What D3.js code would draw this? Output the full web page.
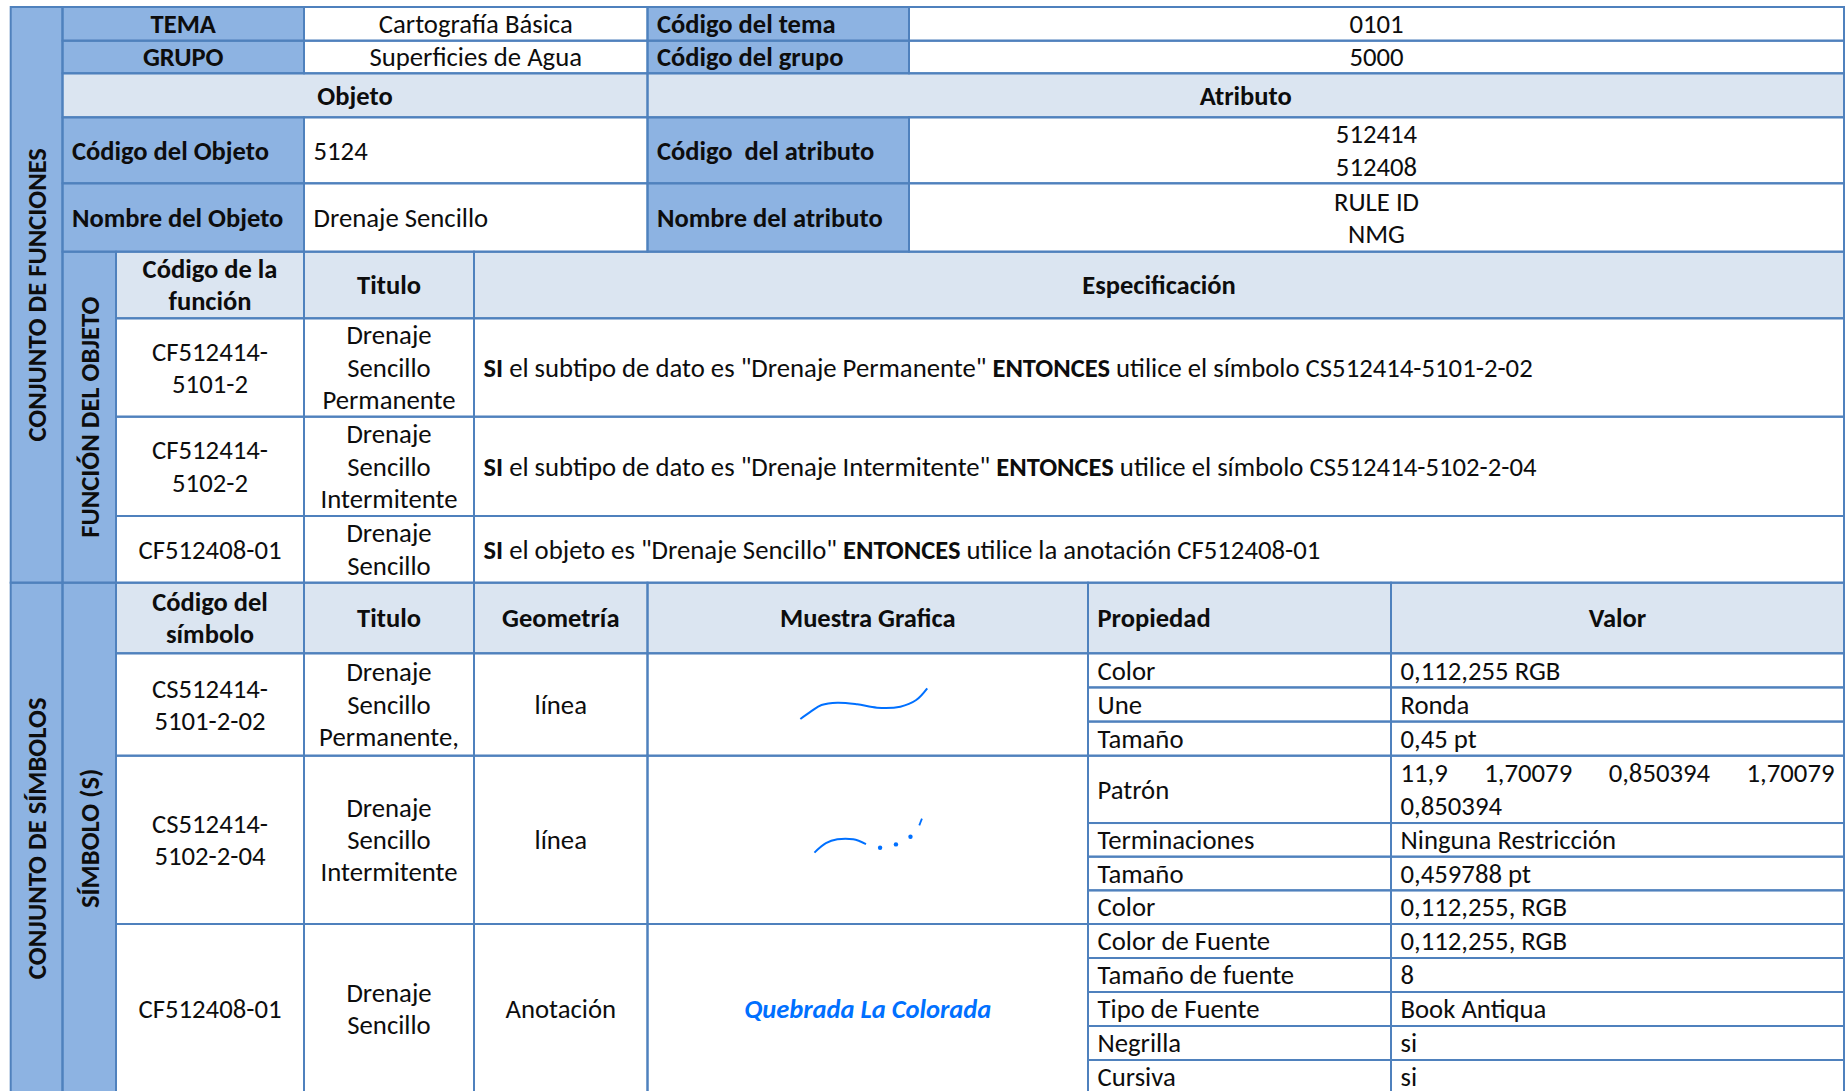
<!DOCTYPE html>
<html><head><meta charset="utf-8">
<script src="https://cdn.jsdelivr.net/npm/d3@7"></script>
<style>html,body{margin:0;padding:0;background:#fff;overflow:hidden} text{white-space:pre}</style>
</head><body><svg id="c"></svg>
<script>
// ---------------- DATA ----------------
const temaRow  = ["TEMA", "Cartografía Básica", "Código del tema", "0101"];
const grupoRow = ["GRUPO", "Superficies de Agua", "Código del grupo", "5000"];
const sectionHeaders = ["Objeto", "Atributo"];
const objetoCodigoRow = ["Código del Objeto", "5124", "Código  del atributo", ["512414", "512408"]];
const objetoNombreRow = ["Nombre del Objeto", "Drenaje Sencillo", "Nombre del atributo", ["RULE ID", "NMG"]];
const verticalLabels = ["CONJUNTO DE FUNCIONES", "FUNCIÓN DEL OBJETO", "CONJUNTO DE SÍMBOLOS", "SÍMBOLO (S)"];
const funcionHeaders = [["Código de la", "función"], ["Titulo"], ["Especificación"]];
const funcionCodes = [["CF512414-", "5101-2"], ["CF512414-", "5102-2"], ["CF512408-01"]];
const funcionTitles = [["Drenaje", "Sencillo", "Permanente"], ["Drenaje", "Sencillo", "Intermitente"], ["Drenaje", "Sencillo"]];
const funcionSpecs = [
  [["SI", true], [" el subtipo de dato es \"Drenaje Permanente\" ", false], ["ENTONCES", true], [" utilice el símbolo CS512414-5101-2-02", false]],
  [["SI", true], [" el subtipo de dato es \"Drenaje Intermitente\" ", false], ["ENTONCES", true], [" utilice el símbolo CS512414-5102-2-04", false]],
  [["SI", true], [" el objeto es \"Drenaje Sencillo\" ", false], ["ENTONCES", true], [" utilice la anotación CF512408-01", false]]
];
const simboloHeaders = [["Código del", "símbolo"], ["Titulo"], ["Geometría"], ["Muestra Grafica"], ["Propiedad"], ["Valor"]];
const simboloCodes = [["CS512414-", "5101-2-02"], ["CS512414-", "5102-2-04"], ["CF512408-01"]];
const simboloTitles = [["Drenaje", "Sencillo", "Permanente,"], ["Drenaje", "Sencillo", "Intermitente"], ["Drenaje", "Sencillo"]];
const simboloGeometrias = ["línea", "línea", "Anotación"];
const propiedades = [
  ["Color", "Une", "Tamaño"],
  ["Patrón", "Terminaciones", "Tamaño", "Color"],
  ["Color de Fuente", "Tamaño de fuente", "Tipo de Fuente", "Negrilla", "Cursiva"]
];
const valores = [
  [["0,112,255 RGB"], ["Ronda"], ["0,45 pt"]],
  [["11,9 1,70079 0,850394 1,70079", "0,850394"], ["Ninguna Restricción"], ["0,459788 pt"], ["0,112,255, RGB"]],
  [["0,112,255, RGB"], ["8"], ["Book Antiqua"], ["si"], ["si"]]
];
const propRowUnits = [[1, 1, 1], [2, 1, 1, 1], [1, 1, 1, 1, 1]];
const annotationSample = "Quebrada La Colorada";
// sample symbol geometry, in fractions of the sample cell
const samplePermanente = [[0.347,0.642],[0.372,0.565],[0.395,0.505],[0.431,0.482],[0.476,0.498],[0.521,0.531],[0.574,0.521],[0.610,0.456],[0.635,0.342]];
const sampleIntermitenteDash = [[0.379,0.576],[0.405,0.520],[0.431,0.497],[0.467,0.497],[0.496,0.525]];
const sampleIntermitenteDots = [[0.528,0.547],[0.564,0.527],[0.597,0.482]];
const sampleIntermitenteTail = [[0.617,0.414],[0.623,0.374]];

// ---------------- LAYOUT / STYLE ----------------
const W = 1846, H = 1091;
const colX = [10.7, 62.5, 116, 304, 474, 647.5, 909, 1088, 1391, 1844];
const rowY = [7, 40.7, 73.3, 117.3, 183.3, 251.7, 318.3, 416.7, 516, 582.7, 653.3, 755.7, 924, 1094];
const MED = "#8DB3E2", LIGHT = "#DBE5F1", WHITE = "#FFFFFF", BORDER = "#4F81BD", INK = "#0d0d0d", BLUE = "#0070FF";
const FAMILY = 'Carlito, Lato, "Open Sans", sans-serif';
const LH = 32.3, OFF = 9.2, PAD = 9.5;

const svg = d3.select("#c").attr("width", W).attr("height", H).style("display", "block");
svg.append("rect").attr("width", W).attr("height", H).attr("fill", "#fff");

function measure(str, weight, style) {
  const t = svg.append("text").attr("font-family", FAMILY).attr("font-size", 100)
    .attr("font-weight", weight).attr("font-style", style || "normal").text(str);
  const w = t.node().getComputedTextLength(); t.remove(); return w;
}
const fsReg = 100 * 194 / measure("Cartografía Básica", 400);
const fsBold = 100 * 197 / measure("Código del Objeto", 700);
const fsQ = 100 * 247 / measure(annotationSample, 700, "italic");

const fillLayer = svg.append("g");
const borderLayer = svg.append("g");
const textLayer = svg.append("g");
const cells = [];

function cell(c0, c1, y0, y1, fill, content) {
  cells.push({ x0: colX[c0], x1: colX[c1], y0, y1, fill, content });
}
function R(i) { return rowY[i]; }

function text(lines, o) {
  const n = lines.length;
  const cy = (o.y0 + o.y1) / 2;
  const anchor = o.align === "left" ? "start" : "middle";
  const x = o.align === "left" ? o.x0 + PAD : (o.x0 + o.x1) / 2;
  lines.forEach((ln, i) => {
    textLayer.append("text")
      .attr("x", x).attr("y", cy + (i - (n - 1) / 2) * LH + OFF)
      .attr("text-anchor", anchor)
      .attr("font-family", FAMILY)
      .attr("font-size", o.bold ? fsBold : fsReg)
      .attr("font-weight", o.bold ? 700 : 400)
      .attr("fill", INK).text(ln);
  });
}

// Row 0,1
[temaRow, grupoRow].forEach((row, i) => {
  cell(1, 3, R(i), R(i + 1), MED, o => text([row[0]], { ...o, bold: true }));
  cell(3, 5, R(i), R(i + 1), WHITE, o => text([row[1]], o));
  cell(5, 6, R(i), R(i + 1), MED, o => text([row[2]], { ...o, bold: true, align: "left" }));
  cell(6, 9, R(i), R(i + 1), WHITE, o => text([row[3]], o));
});
// Row 2
cell(1, 5, R(2), R(3), LIGHT, o => text([sectionHeaders[0]], { ...o, bold: true }));
cell(5, 9, R(2), R(3), LIGHT, o => text([sectionHeaders[1]], { ...o, bold: true }));
// Row 3,4
[objetoCodigoRow, objetoNombreRow].forEach((row, i) => {
  const r = 3 + i;
  cell(1, 3, R(r), R(r + 1), MED, o => text([row[0]], { ...o, bold: true, align: "left" }));
  cell(3, 5, R(r), R(r + 1), WHITE, o => text([row[1]], { ...o, align: "left" }));
  cell(5, 6, R(r), R(r + 1), MED, o => text([row[2]], { ...o, bold: true, align: "left" }));
  cell(6, 9, R(r), R(r + 1), WHITE, o => text(row[3], o));
});
// Vertical label columns
function vlabel(str) {
  return o => {
    const cx = (o.x0 + o.x1) / 2, cy = (o.y0 + o.y1) / 2;
    textLayer.append("text").attr("transform", `translate(${cx},${cy}) rotate(-90)`)
      .attr("text-anchor", "middle").attr("dy", "0.36em")
      .attr("font-family", FAMILY).attr("font-size", fsBold).attr("font-weight", 700)
      .attr("fill", INK).text(str);
  };
}
cell(0, 1, R(0), R(9), MED, vlabel(verticalLabels[0]));
cell(1, 2, R(5), R(9), MED, vlabel(verticalLabels[1]));
cell(0, 1, R(9), R(13), MED, vlabel(verticalLabels[2]));
cell(1, 2, R(9), R(13), MED, vlabel(verticalLabels[3]));
// Function header
[[2, 3], [3, 4], [4, 9]].forEach((cc, i) =>
  cell(cc[0], cc[1], R(5), R(6), LIGHT, o => text(funcionHeaders[i], { ...o, bold: true })));
// Function rows
funcionCodes.forEach((code, i) => {
  const r = 6 + i;
  cell(2, 3, R(r), R(r + 1), WHITE, o => text(code, o));
  cell(3, 4, R(r), R(r + 1), WHITE, o => text(funcionTitles[i], o));
  cell(4, 9, R(r), R(r + 1), WHITE, o => {
    const t = textLayer.append("text").attr("x", o.x0 + PAD).attr("y", (o.y0 + o.y1) / 2 + OFF)
      .attr("font-family", FAMILY).attr("fill", INK);
    funcionSpecs[i].forEach(([s, b]) => t.append("tspan")
      .attr("font-weight", b ? 700 : 400).attr("font-size", b ? fsBold : fsReg).text(s));
  });
});
// Symbol header
[[2, 3], [3, 4], [4, 5], [5, 7], [7, 8], [8, 9]].forEach((cc, i) =>
  cell(cc[0], cc[1], R(9), R(10), LIGHT, o => text(simboloHeaders[i], { ...o, bold: true, align: i === 4 ? "left" : "middle" })));

// Symbol rows
const lineGen = d3.line().curve(d3.curveCatmullRom.alpha(0.5));
function sampleScales(o) {
  return [d3.scaleLinear().domain([0, 1]).range([o.x0, o.x1]), d3.scaleLinear().domain([0, 1]).range([o.y0, o.y1])];
}
const samples = [
  o => {
    const [sx, sy] = sampleScales(o);
    textLayer.append("path").attr("d", lineGen(samplePermanente.map(p => [sx(p[0]), sy(p[1])])))
      .attr("fill", "none").attr("stroke", BLUE).attr("stroke-width", 2);
  },
  o => {
    const [sx, sy] = sampleScales(o);
    textLayer.append("path").attr("d", lineGen(sampleIntermitenteDash.map(p => [sx(p[0]), sy(p[1])])))
      .attr("fill", "none").attr("stroke", BLUE).attr("stroke-width", 2);
    textLayer.selectAll(null).data(sampleIntermitenteDots).enter().append("circle")
      .attr("cx", p => sx(p[0])).attr("cy", p => sy(p[1])).attr("r", 2.2).attr("fill", BLUE);
    textLayer.append("path").attr("d", d3.line()(sampleIntermitenteTail.map(p => [sx(p[0]), sy(p[1])])))
      .attr("fill", "none").attr("stroke", BLUE).attr("stroke-width", 1.8);
  },
  o => {
    textLayer.append("text").attr("x", (o.x0 + o.x1) / 2).attr("y", (o.y0 + o.y1) / 2 + OFF)
      .attr("text-anchor", "middle").attr("font-family", FAMILY).attr("font-size", fsQ)
      .attr("font-weight", 700).attr("font-style", "italic").attr("fill", BLUE).text(annotationSample);
  }
];
function justifiedLine(words, x0, x1, y) {
  const g = textLayer.append("g");
  const ts = words.map(w => g.append("text").attr("y", y).attr("font-family", FAMILY)
    .attr("font-size", fsReg).attr("fill", INK).text(w));
  const widths = ts.map(t => t.node().getComputedTextLength());
  const gap = (x1 - x0 - d3.sum(widths)) / (words.length - 1);
  let x = x0;
  ts.forEach((t, i) => { t.attr("x", x); x += widths[i] + gap; });
}
simboloCodes.forEach((code, i) => {
  const r = 10 + i, y0 = R(r), y1 = R(r + 1);
  cell(2, 3, y0, y1, WHITE, o => text(code, o));
  cell(3, 4, y0, y1, WHITE, o => text(simboloTitles[i], o));
  cell(4, 5, y0, y1, WHITE, o => text([simboloGeometrias[i]], o));
  cell(5, 7, y0, y1, WHITE, samples[i]);
  const units = propRowUnits[i];
  const unit = (y1 - y0) / d3.sum(units);
  let yy = y0;
  propiedades[i].forEach((p, j) => {
    const a = yy, b = yy + units[j] * unit; yy = b;
    cell(7, 8, a, b, WHITE, o => text([p], { ...o, align: "left" }));
    const v = valores[i][j];
    if (v.length > 1) {
      cell(8, 9, a, b, WHITE, o => {
        const cy = (o.y0 + o.y1) / 2;
        justifiedLine(v[0].split(" "), o.x0 + PAD, o.x1 - PAD, cy - LH / 2 + OFF);
        textLayer.append("text").attr("x", o.x0 + PAD).attr("y", cy + LH / 2 + OFF)
          .attr("font-family", FAMILY).attr("font-size", fsReg).attr("fill", INK).text(v[1]);
      });
    } else {
      cell(8, 9, a, b, WHITE, o => text(v, { ...o, align: "left" }));
    }
  });
});

// ---------------- RENDER ----------------
fillLayer.selectAll("rect").data(cells).enter().append("rect")
  .attr("x", d => d.x0).attr("y", d => d.y0)
  .attr("width", d => d.x1 - d.x0).attr("height", d => d.y1 - d.y0)
  .attr("fill", d => d.fill);
borderLayer.selectAll("rect").data(cells).enter().append("rect")
  .attr("x", d => d.x0).attr("y", d => d.y0)
  .attr("width", d => d.x1 - d.x0).attr("height", d => d.y1 - d.y0)
  .attr("fill", "none").attr("stroke", BORDER).attr("stroke-width", 2);
cells.forEach(d => d.content && d.content(d));
</script></body></html>
